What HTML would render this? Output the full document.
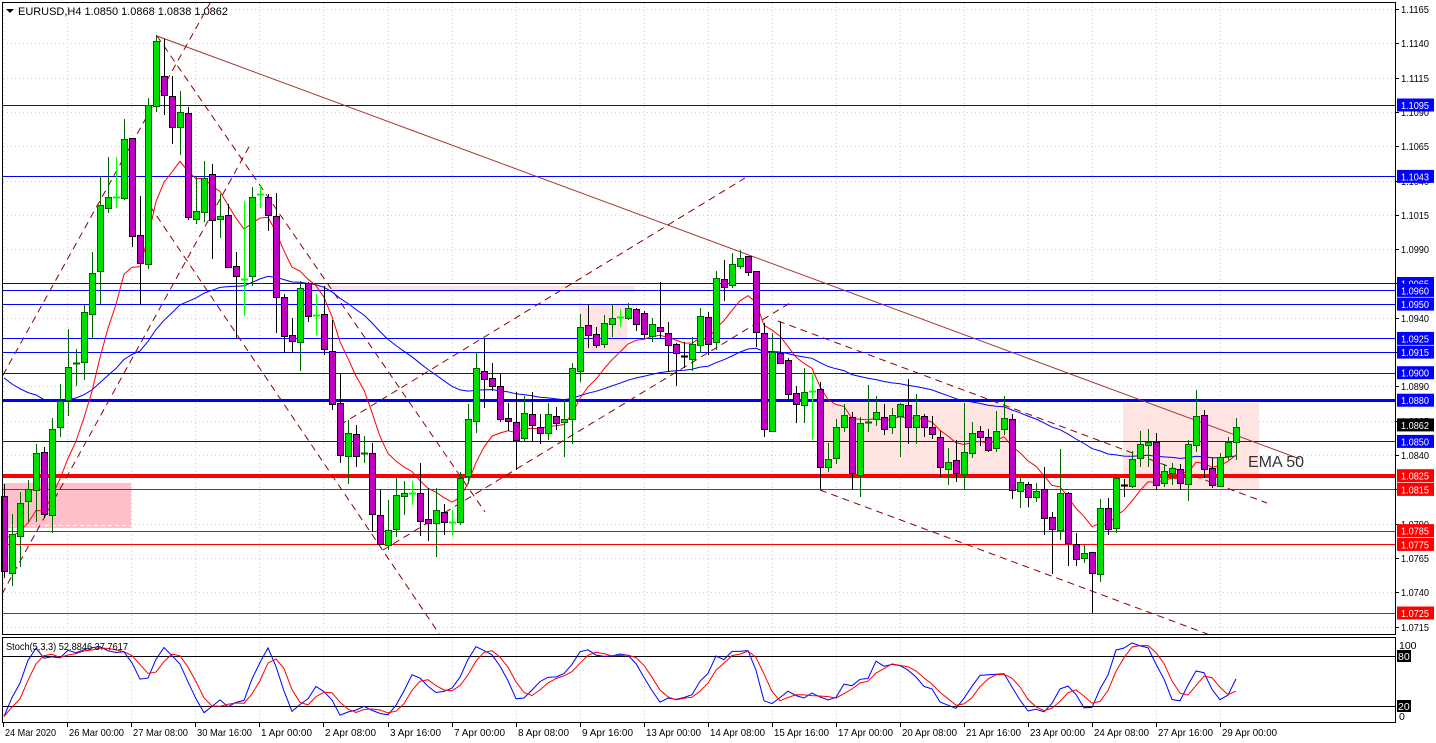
<!DOCTYPE html>
<html><head><meta charset="utf-8">
<style>
html,body{margin:0;padding:0;background:#fff;}
svg{display:block;font-family:"Liberation Sans",Tahoma,sans-serif;}
</style></head>
<body>
<svg id="c" width="1436" height="743" xmlns="http://www.w3.org/2000/svg"></svg>
<script>
const S=document.getElementById('c');let h='';
const Y=p=>105+(1.1095-p)*13730;
const ticks=[3,67,131,195,259,323,388,452,516,580,644,708,772,836,900,964,1028,1092,1156,1220];
const dates=["24 Mar 2020","26 Mar 00:00","27 Mar 08:00","30 Mar 16:00","1 Apr 00:00","2 Apr 08:00","3 Apr 16:00","7 Apr 00:00","8 Apr 08:00","9 Apr 16:00","13 Apr 00:00","14 Apr 08:00","15 Apr 16:00","17 Apr 00:00","20 Apr 08:00","21 Apr 16:00","23 Apr 00:00","24 Apr 08:00","27 Apr 16:00","29 Apr 00:00"];
ticks.forEach(x=>{h+=`<line x1="${x+0.5}" y1="3" x2="${x+0.5}" y2="634" stroke="#d0d0d0" stroke-dasharray="1,3"/><line x1="${x+0.5}" y1="638" x2="${x+0.5}" y2="721" stroke="#d0d0d0" stroke-dasharray="1,3"/>`});
const axl=[];for(let p=1.1165;p>1.071;p-=0.0025)axl.push(+p.toFixed(4));
axl.forEach(p=>{const y=Math.round(Y(p))+0.5;h+=`<line x1="3" y1="${y}" x2="1394" y2="${y}" stroke="#d0d0d0" stroke-dasharray="1,3"/>`});
h+=`<rect x="2" y="483" width="129" height="45" fill="#ffc0cb"/><line x1="3" y1="525.5" x2="130" y2="525.5" stroke="#fff" stroke-dasharray="4,3"/>`;
h+=`<rect x="310" y="286" width="325" height="6" fill="#ffe4e1"/>`;
h+=`<rect x="579" y="306" width="48" height="47" fill="#ffe4e1"/>`;
h+=`<rect x="820" y="403" width="192" height="75" fill="#ffe4e1"/>`;
h+=`<rect x="1123" y="403" width="136" height="87" fill="#ffe4e1"/>`;
const lv=[[1.1095,'#0000ff',1],[1.1043,'#0000ff',1],[1.0965,'#0000ff',1],[1.0960,'#0000ff',1],[1.0950,'#0000ff',1],[1.0925,'#0000ff',1],[1.0915,'#0000ff',1],[1.0900,'#0000ff',1],[1.0880,'#0000ff',3],[1.0850,'#0000ff',1],[1.0825,'#ff0000',4],[1.0815,'#ff0000',1],[1.0785,'#ff0000',1],[1.0775,'#ff0000',1],[1.0725,'#ff0000',1]];
lv.forEach(([p,c,w])=>{const y=Math.round(Y(p))+(w%2?0.5:0);h+=`<line x1="3" y1="${y}" x2="1395" y2="${y}" stroke="${c}" stroke-width="${w}"/>`});
h+=`<line x1="157" y1="36" x2="1300" y2="459" stroke="#a0302a" stroke-width="1"/>`;
[[3,375,210,3],[2,594,250,145],[157,36,485,512],[150,206,440,635],[340,425,745,178],[383,550,790,303],[778,321,1267,503],[820,490,1210,635]].forEach(a=>{h+=`<line x1="${a[0]}" y1="${a[1]}" x2="${a[2]}" y2="${a[3]}" stroke="#8b0000" stroke-dasharray="7,5"/>`});
const D=`P 496 571 484 578|G 534 573 514 586|G 503 536 492 567|G 489 501 480 522|G 453 490 444 522|P 452 514 447 518|G 429 515 418 533|G 401 427 384 437|G 367 400 329 416|D 363 363 349 386|G 312 362 305 380|G 273 314 252 339|G 205 271 176 304|G 197 208 157 213|L 197 197 157 208|G 139 198 119 200|P 138 236 138 247|P 235 263 196 304|G 105 264 98 269|G 41 106 35 112|P 76 95 39 115|P 96 127 76 144|G 112 127 91 155|P 113 217 107 220|G 211 219 176 224|G 178 212 161 222|P 174 220 164 259|G 216 219 194 238|P 215 267 204 267|P 266 276 252 339|L 279 279 201 316|G 197 276 187 286|L 194 194 186 208|P 197 215 194 231|P 216 297 193 333|P 297 336 294 353|P 335 341 318 353|G 288 342 281 371|P 283 316 282 322|L 315 315 294 335|P 314 349 286 355|P 351 404 320 410|P 403 455 373 463|G 433 456 420 484|P 434 456 425 467|D 453 453 436 463|P 453 514 443 532|P 515 544 490 545|G 530 545 500 550|G 495 529 477 537|G 493 496 481 515|L 493 493 481 505|P 493 521 463 536|P 519 523 488 541|G 510 523 488 557|P 512 522 504 535|L 522 522 510 535|G 478 522 472 525|G 419 476 404 484|G 368 421 352 433|P 371 379 338 408|P 378 386 363 391|P 386 419 373 422|P 418 421 403 431|P 422 440 392 470|G 413 438 396 442|P 414 425 392 442|P 427 433 414 444|G 414 433 403 440|P 416 423 407 430|G 419 422 400 457|G 368 419 363 444|G 327 371 314 382|P 325 335 304 348|P 334 345 327 348|G 323 344 315 348|G 318 324 304 337|L 317 317 309 327|G 308 318 303 320|P 309 324 308 331|P 313 334 311 338|G 324 336 318 342|P 327 331 282 338|P 333 345 322 372|P 344 353 343 386|B 356 356 342 368|G 344 359 337 371|G 316 345 308 353|P 317 344 312 355|G 278 342 271 350|P 279 287 260 301|G 264 285 253 288|G 258 266 250 269|P 256 272 256 276|P 271 332 271 347|P 333 429 323 437|G 352 431 333 432|P 353 363 322 363|P 360 394 358 400|P 393 404 386 423|G 392 405 368 423|L 391 391 373 440|P 389 467 382 489|G 459 467 443 472|G 427 458 419 464|G 415 427 404 432|P 417 473 412 490|G 423 475 417 497|D 422 422 385 432|G 412 419 396 426|P 417 429 404 435|G 415 427 408 434|G 404 416 403 457|P 405 427 379 444|G 415 427 394 444|P 416 427 414 437|P 427 434 416 439|P 437 467 431 477|G 462 469 448 485|P 460 473 440 482|G 452 474 403 490|G 433 453 422 458|P 431 437 426 446|P 437 450 429 452|G 431 448 411 452|G 418 429 396 435|P 419 490 414 499|G 482 491 478 508|P 484 497 482 507|G 491 497 483 502|P 489 518 467 535|P 517 529 512 574|G 493 530 449 540|P 493 543 492 566|P 544 559 533 566|G 553 558 545 563|P 552 573 552 613|G 508 574 499 582|P 508 529 498 535|G 478 528 477 533|B 485 485 479 497|G 459 486 451 488|G 444 458 431 467|G 442 445 429 467|P 442 485 433 490|G 471 483 464 487|G 468 473 463 485|P 469 483 464 490|G 444 484 440 501|G 416 445 390 452|P 415 469 410 478|P 468 485 458 488|G 457 486 453 487|G 442 456 437 460|G 427 442 418 460`.split('|').map(s=>{const a=s.split(' ');return [a[0],+a[1],+a[2],+a[3],+a[4]]});
const cl=D.map(d=>d[0]=='P'?d[2]:d[1]);
function ema(seed,n){const k=2/(n+1);let e=seed;const r=[];cl.forEach(c=>{e=e+k*(c-e);r.push(e)});return r;}
const eb=ema(370,50),er=ema(530,10);
const pl=(arr,col)=>`<polyline fill="none" stroke="${col}" stroke-width="1" points="${arr.map((v,i)=>(4+8*i)+','+v.toFixed(1)).join(' ')}"/>`;
h+=pl(eb,'#0000ff');h+=pl(er,'#ff0000');
D.forEach((d,i)=>{const x=4+8*i;const [t,a,b,hi,lo]=d;
 if(t=='G'||t=='P'){const wc=t=='G'?'#006400':'#000';const fc=t=='G'?'#00e000':'#c000c0';
  h+=`<line x1="${x+0.5}" y1="${hi}" x2="${x+0.5}" y2="${lo}" stroke="${wc}"/>`;
  h+=`<rect x="${x-2.5}" y="${a+0.5}" width="6" height="${Math.max(b-a,1)}" fill="${fc}" stroke="${wc}"/>`;}
 else{const c=t=='L'?'#00ff00':(t=='D'?'#006400':'#000');
  h+=`<line x1="${x+0.5}" y1="${hi}" x2="${x+0.5}" y2="${lo}" stroke="${c}"/><line x1="${x-3}" y1="${a+0.5}" x2="${x+4}" y2="${a+0.5}" stroke="${c}" stroke-width="2"/>`;}
});
h+=`<text x="1248" y="467" font-size="16" fill="#333">EMA 50</text>`;
const K=[],Dd=[];const num=[],den=[];
D.forEach((d,i)=>{const s=Math.max(0,i-4);let hh=1e9,ll=-1e9;for(let j=s;j<=i;j++){hh=Math.min(hh,D[j][3]);ll=Math.max(ll,D[j][4]);}num.push(ll-cl[i]);den.push(ll-hh);
 const s2=Math.max(0,i-2);let n=0,dd=0;for(let j=s2;j<=i;j++){n+=num[j];dd+=den[j];}K.push(dd?100*n/dd:50);
 let m=0,c=0;for(let j=Math.max(0,i-2);j<=i;j++){m+=K[j];c++;}Dd.push(m/c);});
const sy=v=>722.7-v*0.8333;
h+=`<line x1="3" y1="656.5" x2="1395" y2="656.5" stroke="#000"/><line x1="3" y1="706.5" x2="1395" y2="706.5" stroke="#000"/>`;
h+=`<polyline fill="none" stroke="#0000ff" points="${K.map((v,i)=>(4+8*i)+','+sy(v).toFixed(1)).join(' ')}"/>`;
h+=`<polyline fill="none" stroke="#ff0000" points="${Dd.map((v,i)=>(4+8*i)+','+sy(v).toFixed(1)).join(' ')}"/>`;
h+=`<rect x="2.5" y="2.5" width="1393" height="632" fill="none" stroke="#000"/><rect x="2.5" y="637.5" width="1393" height="85" fill="none" stroke="#000"/>`;
h+=`<path d="M6 9 L14 9 L10 13 Z" fill="#000"/><text x="18" y="15" font-size="11" fill="#000" textLength="210" lengthAdjust="spacingAndGlyphs">EURUSD,H4  1.0850 1.0868 1.0838 1.0862</text>`;
h+=`<text x="6" y="650" font-size="10.5" fill="#000" textLength="122" lengthAdjust="spacingAndGlyphs">Stoch(5,3,3) 52.8846 37.7617</text>`;
const T=(x,y,s,col,len)=>`<text x="${x}" y="${y}" font-size="10.5" fill="${col}" textLength="${len}" lengthAdjust="spacingAndGlyphs">${s}</text>`;
axl.forEach(p=>{const y=Math.round(Y(p));h+=`<line x1="1396" y1="${y+0.5}" x2="1399" y2="${y+0.5}" stroke="#000"/>`+T(1401,y+4,p.toFixed(4),'#000',28)});
lv.forEach(([p,c])=>{const y=Y(p);h+=`<rect x="1397" y="${(y-6.5).toFixed(1)}" width="37" height="13" fill="${c}"/>`+T(1401,(y+4).toFixed(1),p.toFixed(4),'#fff',28)});
{const y=Y(1.0862);h+=`<rect x="1397" y="${(y-6.5).toFixed(1)}" width="37" height="13" fill="#000"/>`+T(1401,(y+4).toFixed(1),'1.0862','#fff',28);}
h+=`<text x="1399" y="649" font-size="10.5">100</text><rect x="1397" y="650" width="14" height="12" fill="#000"/><text x="1398" y="660" font-size="10.5" fill="#fff">80</text>`;
h+=`<rect x="1397" y="700" width="14" height="12" fill="#000"/><text x="1398" y="710" font-size="10.5" fill="#fff">20</text><text x="1399" y="720" font-size="10.5">0</text>`;
ticks.forEach((x,i)=>{h+=`<line x1="${x+0.5}" y1="723" x2="${x+0.5}" y2="727" stroke="#000"/>`+T(x+2,736,dates[i],'#000',Math.round(dates[i].length*4.6))});
S.innerHTML=h;
</script>
</body></html>
